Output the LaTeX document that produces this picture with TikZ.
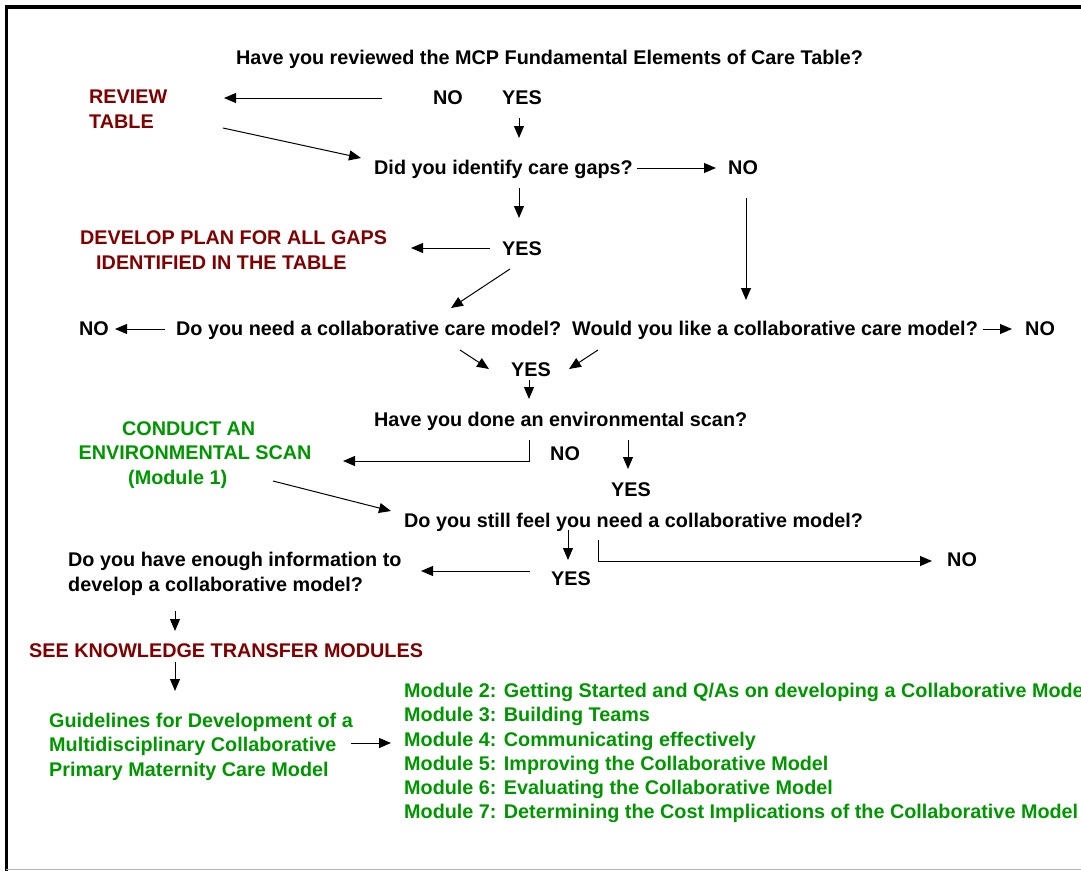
\documentclass[tikz,border=0pt]{standalone}
\usepackage{fontspec}
\setmainfont{Liberation Sans}
\usetikzlibrary{arrows.meta}

\definecolor{planred}{RGB}{128,0,0}
\definecolor{modgreen}{RGB}{0,150,0}

\tikzset{
	txt/.style={inner sep=0pt, anchor=base west, font=\bfseries\fontsize{19.8bp}{24.5bp}\selectfont},
	blk/.style={txt, anchor=west, align=left},
	arr/.style={-{Triangle[length=12bp,width=10bp]}, line width=1bp},
}

\begin{document}
\begin{tikzpicture}[x=1bp, y=-1bp]
		\useasboundingbox (0,0) rectangle (1081,871);
		\clip (0,0) rectangle (1081,871);
		% Frame
		\draw[line width=3.5bp] (6.3,871) -- (6.3,7) -- (1081,7);
		\draw[gray!60, line width=1.2bp] (6.3,869.5) -- (1081,869.5);
		% Questions and answers
		\node[txt] (q1) at (236,64) {Have you reviewed the MCP Fundamental Elements of Care Table?};
		\node[txt] (no1) at (433,104) {NO};
		\node[txt] (yes1) at (502,104) {YES};
		\node[blk, text=planred] (review) at (89,109) {REVIEW\\TABLE};
		\node[txt] (q2) at (374,174) {Did you identify care gaps?};
		\node[txt] (no2) at (728,174) {NO};
		\node[txt] (yes2) at (502,255) {YES};
		\node[blk, text=planred] (plan) at (80,250) {DEVELOP PLAN FOR ALL GAPS\\\hspace*{16bp}IDENTIFIED IN THE TABLE};
		\node[txt] (no3a) at (79,335) {NO};
		\node[txt] (q3a) at (176,335) {Do you need a collaborative care model?};
		\node[txt] (q3b) at (572,335) {Would you like a collaborative care model?};
		\node[txt] (no3b) at (1025,335) {NO};
		\node[txt] (yes3) at (511,376) {YES};
		\node[txt] (q4) at (374,426) {Have you done an environmental scan?};
		\node[txt] (no4) at (550,460) {NO};
		\node[txt] (yes4) at (611,496) {YES};
		\node[blk, text=modgreen] (scan) at (78.5,455) {\hspace*{43.5bp}CONDUCT AN\\ENVIRONMENTAL SCAN\\\hspace*{49.5bp}(Module 1)};
		\node[txt] (q5) at (404,527) {Do you still feel you need a collaborative model?};
		\node[txt] (no5) at (947,566) {NO};
		\node[txt] (yes5) at (551,585) {YES};
		\node[blk] (q6) at (68,573.8) {Do you have enough information to\\develop a collaborative model?};
		\node[txt, text=planred] (ktm) at (29,657) {SEE KNOWLEDGE TRANSFER MODULES};
		\node[blk, text=modgreen] (guide) at (49,746.6) {Guidelines for Development of a\\Multidisciplinary Collaborative\\Primary Maternity Care Model};
		\node[blk, text=modgreen, font=\bfseries\fontsize{19.8bp}{24.1bp}\selectfont] (mods) at (404,753) {Module 2: Getting Started and Q/As on developing a Collaborative Model\\
			Module 3: Building Teams\\
			Module 4: Communicating effectively\\
			Module 5: Improving the Collaborative Model\\
			Module 6: Evaluating the Collaborative Model\\
			Module 7: Determining the Cost Implications of the Collaborative Model};
		% Connector ends
		\coordinate (no1w) at (382,98);   \coordinate (reviewe) at (224,98);
		\coordinate (yes1s) at (519,118); \coordinate (q2n) at (519,138);
		\coordinate (reviewse) at (223,128); \coordinate (q2w) at (361,158);
		\coordinate (q2e) at (637,168);   \coordinate (no2w) at (716,168);
		\coordinate (no2s) at (746,198);  \coordinate (q3bn) at (746,300);
		\coordinate (q2s) at (519,188);   \coordinate (yes2n) at (519,218);
		\coordinate (yes2w) at (490,248); \coordinate (plane) at (411,248);
		\coordinate (yes2sw) at (510,269); \coordinate (q3an) at (451,308);
		\coordinate (q3aw) at (165,329);  \coordinate (no3ae) at (115,329);
		\coordinate (q3be) at (983,329);  \coordinate (no3bw) at (1012,329);
		\coordinate (q3as) at (460,350);  \coordinate (yes3nw) at (489,369);
		\coordinate (q3bs) at (598,350);  \coordinate (yes3ne) at (569,369);
		\coordinate (yes3s) at (529,380); \coordinate (q4n) at (529,399);
		\coordinate (q4sl) at (529,440);  \coordinate (scane) at (343,461);
		\coordinate (q4sr) at (628,440);  \coordinate (yes4n) at (628,469);
		\coordinate (scanse) at (273,481); \coordinate (q5w) at (391,511);
		\coordinate (q5sl) at (568,530);  \coordinate (yes5n) at (568,560);
		\coordinate (q5sr) at (598,540);  \coordinate (no5w) at (932,561);
		\coordinate (yes5w) at (530,571); \coordinate (q6e) at (421,571);
		\coordinate (q6s) at (175,611);   \coordinate (ktmn) at (175,631);
		\coordinate (ktms) at (175,662);  \coordinate (guiden) at (175,691);
		\coordinate (guidee) at (351,743); \coordinate (modsw) at (391,743);
		% Connectors
		\draw[arr] (no1w) -- (reviewe);
		\draw[arr] (yes1s) -- (q2n);
		\draw[arr] (reviewse) -- (q2w);
		\draw[arr] (q2e) -- (no2w);
		\draw[arr] (no2s) -- (q3bn);
		\draw[arr] (q2s) -- (yes2n);
		\draw[arr] (yes2w) -- (plane);
		\draw[arr] (yes2sw) -- (q3an);
		\draw[arr] (q3aw) -- (no3ae);
		\draw[arr] (q3be) -- (no3bw);
		\draw[arr] (q3as) -- (yes3nw);
		\draw[arr] (q3bs) -- (yes3ne);
		\draw[arr] (yes3s) -- (q4n);
		\draw[arr] (q4sl) |- (scane);
		\draw[arr] (q4sr) -- (yes4n);
		\draw[arr] (scanse) -- (q5w);
		\draw[arr] (q5sl) -- (yes5n);
		\draw[arr] (q5sr) |- (no5w);
		\draw[arr] (yes5w) -- (q6e);
		\draw[arr] (q6s) -- (ktmn);
		\draw[arr] (ktms) -- (guiden);
		\draw[arr] (guidee) -- (modsw);
	\end{tikzpicture}
\end{document}
